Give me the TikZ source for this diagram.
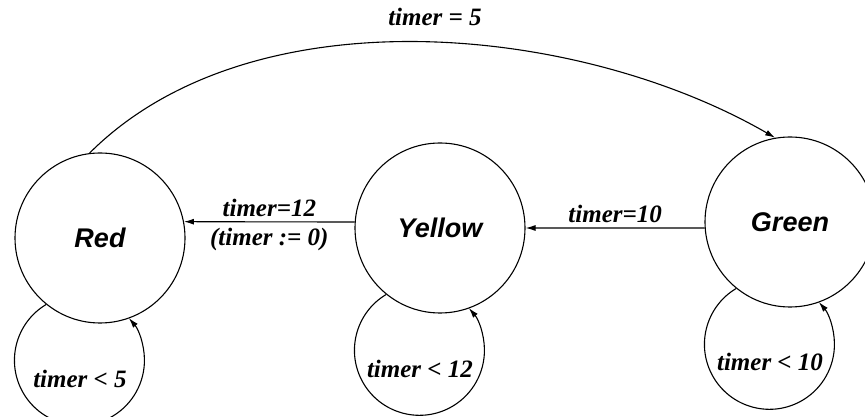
\documentclass[tikz,border=0pt]{standalone}
\usepackage{fontspec}
\setmainfont{Liberation Serif}
\newfontfamily\statefont{Liberation Sans}
\usetikzlibrary{arrows.meta}

\begin{document}
\begin{tikzpicture}[x=1pt,y=1pt,line width=1.1pt,>={Latex[length=10pt,width=6pt]},
    statenode/.style={draw,circle,minimum size=170pt,inner sep=0pt,
        font=\statefont\fontsize{27}{30}\selectfont\bfseries\itshape},
    edgelabel/.style={font=\fontsize{25}{28}\selectfont\bfseries\itshape,inner sep=2pt}]
                \useasboundingbox (0,0) rectangle (865,417);
                
                \node[statenode] (Red) at (100,179) {Red};
                \node[statenode] (Yellow) at (440,189) {Yellow};
                \node[statenode] (Green) at (790,195) {Green};
                
                % transitions between the lights
                \draw[->] (Red.97) to[out=45,in=150,looseness=0.85] (Green.100);
                \node[edgelabel] (t5) at (435,400) {timer = 5};
                
                \draw[->] (Yellow.176) -- (Red.11)
                    node[edgelabel,midway,above,inner sep=5pt] (t12) {timer=12}
                    node[edgelabel,midway,below,inner sep=6pt] (reset) {(timer := 0)};
                \draw[->] (Green.184) -- (Yellow.east)
                    node[edgelabel,midway,above,inner sep=5pt] (t10) {timer=10};
                
                % self loops
                \draw[->] (Red.231) arc[start angle=120.8,end angle=400.5,radius=65pt];
                \draw[->] (Yellow.231) arc[start angle=120.8,end angle=400.5,radius=65pt];
                \draw[->] (Green.231) arc[start angle=120.8,end angle=400.5,radius=65pt];
                
                \node[edgelabel] (lt5) at ([shift={(-20,-141)}]Red.center) {timer < 5};
                \node[edgelabel] (lt12) at ([shift={(-20,-141)}]Yellow.center) {timer < 12};
                \node[edgelabel] (lt10) at ([shift={(-20,-140)}]Green.center) {timer < 10};
            \end{tikzpicture}
\end{document}
